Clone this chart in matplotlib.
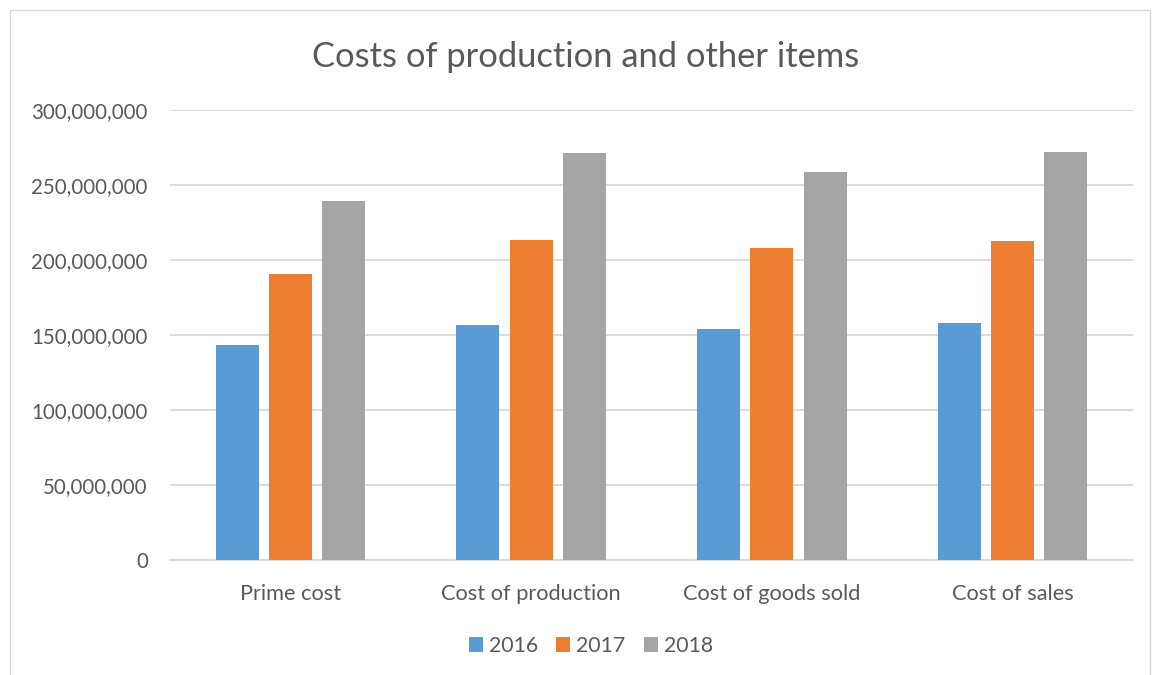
import matplotlib.pyplot as plt
import numpy as np
from matplotlib.ticker import FuncFormatter
from matplotlib.patches import Rectangle

plt.rcParams['font.family'] = ['Lato', 'DejaVu Sans']

kategorie = ["Prime cost", "Cost of production", "Cost of goods sold", "Cost of sales"]
lata = ["2016", "2017", "2018"]
v2016 = [143300000, 156700000, 154000000, 158000000]
v2017 = [190700000, 213300000, 208000000, 212700000]
v2018 = [239300000, 271300000, 258700000, 272000000]
kolory = ["#5b9bd5", "#ed7d31", "#a5a5a5"]

fig = plt.figure(figsize=(11.53, 6.75), dpi=100)
ax = fig.add_axes([170 / 1153, 1 - 560 / 675, 963 / 1153, 450 / 675])

# ramka wykresu
fig.patches.append(Rectangle((10 / 1153, -0.01), 1140 / 1153, 1 - 10 / 675 + 0.01,
                             transform=fig.transFigure, fill=False,
                             edgecolor="#d9d9d9", linewidth=1))

x = np.arange(len(kategorie))
szer = 0.179
krok = 0.221
for i, (wartosci, rok) in enumerate(zip([v2016, v2017, v2018], lata)):
    ax.bar(x + (i - 1) * krok, wartosci, width=szer, color=kolory[i], label=rok, zorder=3)

ax.set_xlim(-0.5, len(kategorie) - 0.5)
ax.set_ylim(0, 300000000)
ax.set_yticks(np.arange(0, 300000001, 50000000))
ax.yaxis.set_major_formatter(FuncFormatter(lambda v, p: f"{int(v):,}"))
ax.set_xticks(x)
ax.set_xticklabels(kategorie)
ax.grid(axis="y", color="#d9d9d9", linewidth=1.3, zorder=0)
for s in ["top", "right", "left"]:
    ax.spines[s].set_visible(False)
ax.spines["bottom"].set_color("#d9d9d9")
ax.spines["bottom"].set_linewidth(1.3)
ax.tick_params(axis="both", length=0, labelcolor="#595959")
ax.tick_params(axis="y", pad=16, labelsize=14.8)
ax.tick_params(axis="x", pad=17, labelsize=15.7)

fig.text(586 / 1153, 1 - 57 / 675, "Costs of production and other items",
         ha="center", va="center", fontsize=24.8, color="#595959")

ax.legend(loc="center", bbox_to_anchor=(591 / 1153, 1 - 646 / 675),
          bbox_transform=fig.transFigure, ncol=3, frameon=False,
          fontsize=15.3, labelcolor="#595959", handlelength=0.65, handleheight=0.65,
          columnspacing=0.85, handletextpad=0.3)

fig.savefig("out.png", dpi=100)
